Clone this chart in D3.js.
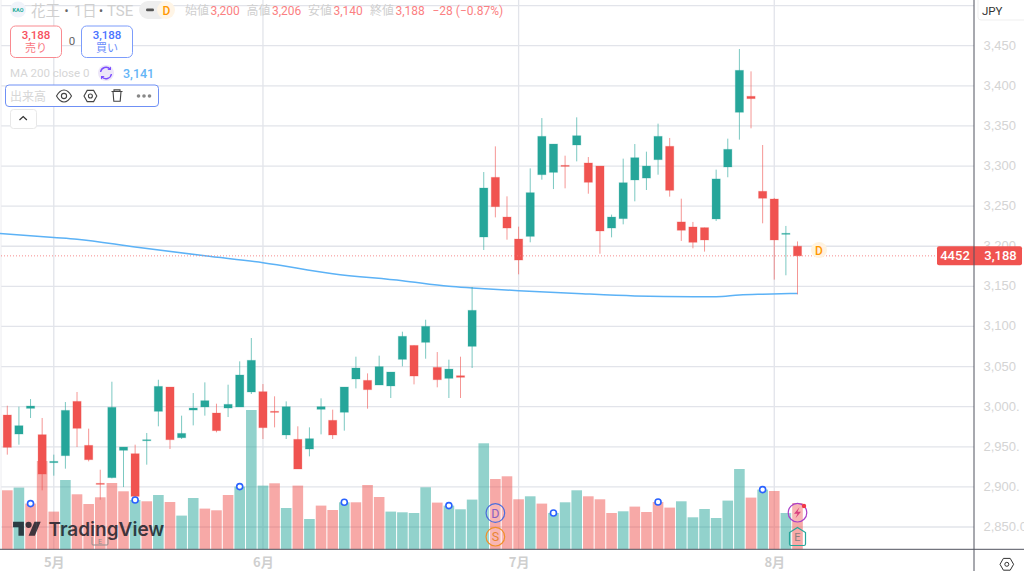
<!DOCTYPE html>
<html>
<head>
<meta charset="utf-8">
<script src="https://d3js.org/d3.v7.min.js"></script>
<style>
  html, body { margin: 0; padding: 0; background: #fff; overflow: hidden; }
  svg { display: block; font-family: Roboto, "Noto Sans CJK JP", sans-serif; }
  .faint { fill: #d2d2d2; }
  .axis path, .axis line { display: none; }
  .price.axis text { fill: #d4d4d4; font-size: 13px; }
  .time.axis text { fill: #cfcfcf; font-size: 13px; font-weight: 700; font-family: "Noto Sans CJK JP", sans-serif; }
  .grid line { stroke: #e2e4ea; stroke-width: 1.3; }
</style>
</head>
<body>
<script type="text/javascript">
 // daily candles, 1 May .. 5 Aug
 var opens = [2989.6,2965.9,2997.9,2965.1,2930.2,2938.9,3006.6,2951.8,2904.4,2911.5,2945.6,2941.4,2957.6,2994.2,3024.5,2961.3,2995.8,2999.6,2992.1,2998.3,2999.6,3018.3,3018.7,2994.2,2964.7,2959.3,2947.2,2996.7,2983,2993,3034.5,3032.8,3027,3025.8,3059,3076.4,3080.2,3049,3035.3,3038.6,3075.2,3211.5,3285.9,3236.4,3209,3212.3,3289.2,3292.1,3300.8,3326.2,3303.8,3300,3222.7,3234.4,3282.6,3285,3307.9,3324.6,3230.3,3224,3223.2,3234,3298.8,3367,3386.9,3268.5,3258.9,3214.9,3200];
 var highs = [3001.2,3000,3009.5,2985.9,2940.2,3005.8,3018.3,2972.6,2921.4,3031.1,2949.7,2952.6,2967.2,3033.6,3024.5,2988.8,3017,3030.3,3003.7,3027.4,3056.5,3085.6,3028.2,3012.9,3006.6,2975.5,2974.2,3010.4,2996.3,3024.5,3062.3,3041.5,3063.6,3043.2,3093.5,3076.4,3108.4,3068.1,3058.6,3062.3,3149.2,3292.5,3324.5,3262.2,3224.4,3297.1,3359.8,3327.4,3312.9,3360.7,3311.2,3300,3239.4,3309.2,3327.4,3317.9,3352.8,3335,3259.3,3230.3,3223.2,3295.5,3334.1,3445.9,3418,3326.2,3260.2,3225.3,3206];
 var lows = [2940.2,2952.6,2985.9,2895.7,2914,2922.7,2949.7,2931.8,2884,2910.6,2899.8,2884,2927.7,2975.5,2947.2,2959.7,2976.7,2988.8,2968,2987.1,2999.6,3015.8,2959.7,2974.2,2959.7,2922.3,2938.1,2965.5,2959.7,2970.1,3022.8,2997.5,3027,3010.8,3050.3,3027.8,3059.8,3024.1,3010.8,3010.8,3048.2,3195.3,3236,3208.2,3165,3204.9,3283,3271.3,3272.2,3305.8,3265.5,3190.7,3211.1,3227.3,3256,3270.1,3289.2,3261.8,3206.6,3197.4,3193.3,3231.5,3286,3332.9,3347,3228.6,3158.4,3163.8,3140];
 var closes = [2949.3,2976.3,3000.8,2916,2931.8,2995.4,2973,2933.9,2903.2,2999.2,2949.7,2888.2,2958.8,3025.3,2958.8,2966.7,2998.3,3007.5,2970.1,3002.9,3039.5,3057.8,2973.8,2992.9,3000,2922.3,2960.1,3000,2964.7,3024.5,3048.2,3021.2,3049.9,3043.2,3087.7,3038.2,3100.1,3033.6,3046.9,3036.6,3120.1,3272.6,3249.3,3222.7,3182.8,3266.8,3337,3327.4,3299.6,3337.8,3279.7,3219,3236.4,3279.2,3310.4,3300,3337,3269.7,3219.9,3204.9,3207.8,3283.9,3320.8,3419.3,3384,3259.8,3207.8,3216.1,3188];
 // volume in arbitrary units, the pane has no scale of its own
 var volumes = [590,617,457,883,377,693,550,453,520,663,580,493,480,543,473,337,513,407,390,543,627,1393,637,660,413,637,303,437,393,470,470,643,523,377,370,363,620,467,437,400,497,1060,703,730,500,530,457,363,470,590,530,500,363,380,427,373,473,417,480,320,403,313,487,803,517,597,583,363,463];
 var volumeSides = "rgrrrgrrrrrgrgrggrrrgggrgrgrrgrrrggggrgggg".split("").concat("rrrgrgggrrrgrrrrggggggrgrgr".split(""));

 // 200 day average, read at a few bars
 var maBars = [-1,4,6,11,17,22,28,34,38,40,44,49,54,59,61,63,65,68];
 var maValues = [3216.4,3211,3208.8,3199.1,3188,3179.5,3165.8,3157,3150,3148,3144.6,3141.1,3138.1,3137.1,3137.1,3139.2,3140.2,3141.1];

 var priceTicks = [3500,3450,3400,3350,3300,3250,3200,3150,3100,3050,3000,2950,2900,2850];
 var priceLabels = ["","3,450","3,400","3,350","3,300","3,250","3,200","3,150","3,100","3,050","3,000.","2,950.","2,900.","2,850.0"];
 var monthBars = [4,22,44,66];
 var monthLabels = ["5月","6月","7月","8月"];
 var alertBars = [2,11,20,29,38,47,56,65];
 var lastPrice = 3188;

 var w = 1024, h = 571, plotRight = 974, plotBottom = 549.3;
 var red = "#f05350", green = "#26a69a", blue = "#2962ff";

 var x = d3.scaleLinear().domain([0, 68]).range([7.3, 797.5]);
 var y = d3.scaleLinear().domain([3450, 2850]).range([45.7, 527.0]);
 var yVol = d3.scaleLinear().domain([0, 1000]).range([plotBottom, plotBottom - 100]);

 var svg = d3.select("body").append("svg")
    .attr("width", w)
    .attr("height", h);

 // grid
 var grid = svg.append("g").attr("class", "grid");
 grid.selectAll(".h").data(priceTicks).enter().append("line")
    .attr("x1", 1).attr("x2", plotRight)
    .attr("y1", function(d) { return y(d); })
    .attr("y2", function(d) { return y(d); });
 grid.selectAll(".v").data(monthBars).enter().append("line")
    .attr("x1", function(d) { return x(d); })
    .attr("x2", function(d) { return x(d); })
    .attr("y1", 0).attr("y2", plotBottom);
 svg.append("line").attr("x1", 1).attr("x2", 1).attr("y1", 0).attr("y2", plotBottom).attr("stroke", "#ececf0");

 // volume bars
 svg.selectAll(".vol").data(volumes).enter().append("rect")
    .attr("class", "vol")
    .attr("x", function(d, i) { return x(i) - 5.3; })
    .attr("width", 10.6)
    .attr("y", function(d) { return yVol(d); })
    .attr("height", function(d) { return plotBottom - yVol(d); })
    .attr("fill", function(d, i) { return volumeSides[i] == "g" ? green : red; })
    .attr("opacity", 0.5);

 // small earnings tag sitting under the logo
 svg.append("path").attr("d", "M92 537v7a1 1 0 0 0 1 1h14a1 1 0 0 0 1-1v-7")
    .attr("fill", "none").attr("stroke", "#8f8f8f").attr("stroke-width", 1);
 svg.append("text").attr("x", 100).attr("y", 543.5).attr("text-anchor", "middle")
    .attr("font-size", 7).attr("fill", "#8f8f8f").text("E");

 // moving average
 var maLine = d3.line()
    .x(function(d) { return x(d); })
    .y(function(d, i) { return y(maValues[i]); })
    .curve(d3.curveMonotoneX);
 svg.append("path").datum(maBars)
    .attr("d", maLine)
    .attr("fill", "none")
    .attr("stroke", "#5cb2f6")
    .attr("stroke-width", 1.5);

 // candles
 var candle = svg.selectAll(".candle").data(closes).enter().append("g").attr("class", "candle");
 candle.append("line")
    .attr("x1", function(d, i) { return x(i); })
    .attr("x2", function(d, i) { return x(i); })
    .attr("y1", function(d, i) { return y(highs[i]); })
    .attr("y2", function(d, i) { return y(lows[i]); })
    .attr("stroke", function(d, i) { return d >= opens[i] ? green : red; })
    .attr("stroke-width", 1)
    .attr("opacity", 0.6);
 candle.append("rect")
    .attr("x", function(d, i) { return x(i) - 4.1; })
    .attr("width", 8.2)
    .attr("y", function(d, i) { return y(Math.max(d, opens[i])); })
    .attr("height", function(d, i) { return Math.max(1, Math.abs(y(d) - y(opens[i]))); })
    .attr("fill", function(d, i) { return d >= opens[i] ? green : red; })
    .attr("stroke", function(d, i) { return d >= opens[i] ? green : red; })
    .attr("stroke-opacity", 0.25)
    .attr("stroke-width", 1);

 // last price dotted line
 svg.append("line")
    .attr("x1", 1).attr("x2", plotRight)
    .attr("y1", y(lastPrice)).attr("y2", y(lastPrice))
    .attr("stroke", "#f4787a").attr("stroke-opacity", 0.85)
    .attr("stroke-dasharray", "1 2");

 // dividend bubble next to the last bar
 svg.append("circle").attr("cx", 819).attr("cy", 250).attr("r", 8).attr("fill", "#fff3e0");
 svg.append("text").attr("x", 819).attr("y", 254.5).attr("text-anchor", "middle")
    .attr("font-size", 12).attr("font-weight", 500).attr("fill", "#ff9800").text("D");

 // alert rings on volume bars
 var ring = svg.selectAll(".alert").data(alertBars).enter().append("circle")
    .attr("class", "alert")
    .attr("cx", function(d) { return x(d); })
    .attr("cy", function(d) { return yVol(volumes[d]); })
    .attr("r", 3)
    .attr("fill", "#fff")
    .attr("stroke", blue)
    .attr("stroke-width", 1.6);

 // logo
 var logo = svg.append("g").attr("opacity", 0.8).attr("fill", "#131722");
 logo.append("path").attr("transform", "translate(13,518.6) scale(0.78)")
    .attr("d", "M14 22H7V11H0V4h14v18zM28 22h-8l7.5-18h8L28 22z");
 logo.append("circle").attr("cx", 28.6).attr("cy", 524.8).attr("r", 3.1);
 logo.append("text").attr("x", 48.5).attr("y", 535.8)
    .attr("font-family", "Inter").attr("font-size", 19).attr("font-weight", 600).text("TradingView");

 // event badges
 function badge(cx, cy, col, t, tcol) {
    svg.append("circle").attr("cx", cx).attr("cy", cy).attr("r", 9.3)
       .attr("fill", "#fff").attr("fill-opacity", 0.15).attr("stroke", col).attr("stroke-width", 1.2);
    svg.append("text").attr("x", cx).attr("y", cy + 4.5).attr("text-anchor", "middle")
       .attr("font-size", 12.5).attr("fill", tcol).text(t);
 }
 badge(x(42), 513, "#4b6ddc", "D", "#8a5fc0");
 badge(x(42), 536.7, "#f0902a", "S", "#e98430");
 badge(x(68), 512.7, "#a93fc8", "", "#000");
 svg.append("path").attr("transform", "translate(" + x(68) + ",512.7)")
    .attr("d", "M2-5.5L-3.5 1H0L-2 5.5L3.5-1H0Z").attr("fill", "#d8407f");
 svg.append("circle").attr("cx", 804).attr("cy", 506).attr("r", 2.2).attr("fill", "#f23645");
 svg.append("path").attr("transform", "translate(" + x(68) + ",0)")
    .attr("d", "M0 527.5L8 532.5V544a1.5 1.5 0 0 1-1.5 1.5H-6.5A1.5 1.5 0 0 1-8 544V532.5Z")
    .attr("fill", "none").attr("stroke", green).attr("stroke-width", 1.2);
 svg.append("text").attr("x", x(68)).attr("y", 541).attr("text-anchor", "middle")
    .attr("font-size", 11).attr("fill", "#8a8080").text("E");

 // axes
 var priceAxis = d3.axisRight(y).tickValues(priceTicks).tickSize(0).tickPadding(0)
    .tickFormat(function(d, i) { return priceLabels[i]; });
 svg.append("g").attr("class", "price axis")
    .attr("transform", "translate(983.5,-0.7)")
    .call(priceAxis);

 var timeAxis = d3.axisBottom(x).tickValues(monthBars).tickSize(0).tickPadding(8)
    .tickFormat(function(d, i) { return monthLabels[i]; });
 svg.append("g").attr("class", "time axis")
    .attr("transform", "translate(0," + plotBottom + ")")
    .call(timeAxis);

 // last price tag
 var tagY = y(lastPrice);
 svg.append("rect").attr("x", 937).attr("y", tagY - 9.5).attr("width", 85).attr("height", 19).attr("rx", 2).attr("fill", red);
 svg.append("text").attr("x", 955).attr("y", tagY + 4.6).attr("text-anchor", "middle")
    .attr("font-size", 13).attr("font-weight", 500).attr("fill", "#fff").text("4452");
 svg.append("text").attr("x", 1000.5).attr("y", tagY + 4.6).attr("text-anchor", "middle")
    .attr("font-size", 13).attr("font-weight", 500).attr("fill", "#fff").text("3,188");

 // frame lines
 svg.append("line").attr("x1", plotRight).attr("x2", plotRight).attr("y1", 0).attr("y2", h).attr("stroke", "#50535e");
 svg.append("line").attr("x1", 0).attr("x2", w).attr("y1", plotBottom).attr("y2", plotBottom).attr("stroke", "#50535e");

 // bits of chart furniture on the right
 svg.append("path").attr("d", "M978 0v17a3 3 0 0 0 3 3h43").attr("fill", "none").attr("stroke", "#efefef");
 svg.append("text").attr("x", 982).attr("y", 14.5).attr("font-size", 11.5).attr("fill", "#333").text("JPY");
 svg.append("path").attr("d", "M1000 564.3l3.4-5.9h6.8l3.4 5.9-3.4 5.9h-6.8z").attr("fill", "none").attr("stroke", "#333");
 svg.append("circle").attr("cx", 1006.8).attr("cy", 564.3).attr("r", 2).attr("fill", "none").attr("stroke", "#333");

 // header
 function label(px, py, t, size, col, weight) {
    return svg.append("text").attr("x", px).attr("y", py).attr("font-size", size)
       .attr("fill", col).attr("font-weight", weight || 400).text(t);
 }
 var grey = "#cfcfcf", soft = "#fb7f82";
 svg.append("circle").attr("cx", 18).attr("cy", 9.5).attr("r", 8).attr("fill", "#f0f3fa");
 svg.append("text").attr("x", 18).attr("y", 11.5).attr("text-anchor", "middle").attr("font-size", 5.5)
    .attr("font-weight", 700).attr("fill", "#1fae9b").text("KAO");
 label(31, 15.5, "花王", 14.5, grey);
 label(64.5, 15, "•", 12, "#666");
 label(74, 15.5, "1日", 14.5, grey);
 label(99, 15, "•", 12, "#666");
 label(107, 15.5, "TSE", 15, grey);
 svg.append("rect").attr("x", 139).attr("y", 1).attr("width", 30).attr("height", 18).attr("rx", 9).attr("fill", "#eeeeee");
 svg.append("rect").attr("x", 146).attr("y", 8.6).attr("width", 8).attr("height", 2.6).attr("rx", 1.3).attr("fill", "#555");
 svg.append("circle").attr("cx", 166).attr("cy", 10).attr("r", 9).attr("fill", "#fff5e6");
 label(162.5, 14.5, "D", 12, "#ff9800", 500);

 var ohlcNames = ["始値","高値","安値","終値"];
 var ohlcValues = ["3,200","3,206","3,140","3,188"];
 var ohlcX = [185,246.5,308,370];
 ohlcNames.forEach(function(n, i) {
    label(ohlcX[i], 14.5, n, 12, grey);
    label(ohlcX[i] + 25.5, 14.5, ohlcValues[i], 12, soft);
 });
 label(432.5, 14.5, "−28 (−0.87%)", 12, soft);

 // buy and sell boxes
 function tradeBox(bx, bw, stroke, col, word, wordCol) {
    svg.append("rect").attr("x", bx).attr("y", 26).attr("width", bw).attr("height", 31.5).attr("rx", 5)
       .attr("fill", "#fff").attr("stroke", stroke);
    svg.append("text").attr("x", bx + bw / 2).attr("y", 39).attr("text-anchor", "middle")
       .attr("font-size", 11.5).attr("font-weight", 500).attr("fill", col).text("3,188");
    svg.append("text").attr("x", bx + bw / 2).attr("y", 52).attr("text-anchor", "middle")
       .attr("font-size", 11).attr("fill", wordCol).text(word);
 }
 tradeBox(10.5, 51, "#f98a90", "#f7525f", "売り", "#f9777f");
 tradeBox(81.5, 51, "#7c9cfb", "#4a73ff", "買い", "#6a8dfb");
 svg.append("text").attr("x", 72).attr("y", 45).attr("text-anchor", "middle").attr("font-size", 11.5).attr("fill", "#666").text("0");

 label(10, 77, "MA 200 close 0", 11.5, "#d6d6d6");
 svg.append("circle").attr("cx", 106).attr("cy", 73).attr("r", 8).attr("fill", "#ece6f8");
 svg.append("path").attr("d", "M100.6 72a5.4 5.4 0 0 1 9.6-2.6M111.4 74a5.4 5.4 0 0 1-9.6 2.6")
    .attr("fill", "none").attr("stroke", "#7c4dff").attr("stroke-width", 1.4);
 svg.append("path").attr("d", "M111 66.5v3.6h-3.6zM101 79.5v-3.6h3.6z").attr("fill", "#7c4dff");
 label(123, 77.5, "3,141", 12.5, "#64b5f6", 500);

 // volume legend toolbar
 svg.append("rect").attr("x", 5.5).attr("y", 85).attr("width", 153).attr("height", 21.5).attr("rx", 3.5)
    .attr("fill", "#fff").attr("stroke", "#6f90f5");
 label(10, 100.5, "出来高", 12, "#d6d6d6");
 var ink = "#444";
 svg.append("path").attr("d", "M56.5 96c2.5-4.4 5-6 7.5-6s5 1.6 7.5 6c-2.5 4.4-5 6-7.5 6s-5-1.6-7.5-6z")
    .attr("fill", "none").attr("stroke", ink).attr("stroke-width", 1.1);
 svg.append("circle").attr("cx", 64).attr("cy", 96).attr("r", 2.6).attr("fill", "none").attr("stroke", ink).attr("stroke-width", 1.1);
 svg.append("path").attr("d", "M84 96l3.2-5.6h6.4l3.2 5.6-3.2 5.6h-6.4z").attr("fill", "none").attr("stroke", ink).attr("stroke-width", 1.1);
 svg.append("circle").attr("cx", 90.4).attr("cy", 96).attr("r", 2).attr("fill", "none").attr("stroke", ink).attr("stroke-width", 1.1);
 svg.append("path").attr("d", "M111.5 91.5h11M114 91.5v-1.6h6v1.6M113 91.5l.8 9.8h6.4l.8-9.8").attr("fill", "none").attr("stroke", ink).attr("stroke-width", 1.1);
 svg.selectAll(".dot").data([138.5, 144, 149.5]).enter().append("circle")
    .attr("cx", function(d) { return d; }).attr("cy", 96).attr("r", 1.8).attr("fill", "#888").attr("stroke", "none");

 // collapse button
 svg.append("rect").attr("x", 10.5).attr("y", 109.5).attr("width", 26).attr("height", 19).attr("rx", 3)
    .attr("fill", "#fff").attr("stroke", "#e8e8e8");
 svg.append("path").attr("d", "M19.5 120l3.7-3.5 3.7 3.5").attr("fill", "none").attr("stroke", "#333").attr("stroke-width", 1.2);
</script>
</body>
</html>
